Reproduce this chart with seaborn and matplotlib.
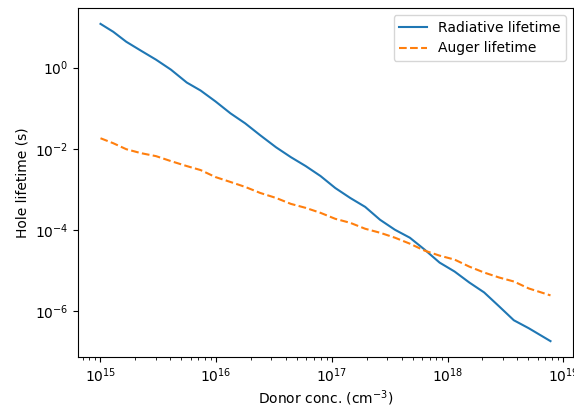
import numpy as np
import pandas as pd
import matplotlib
matplotlib.use("Agg")
import matplotlib.pyplot as plt
import matplotlib.ticker as mticker
import seaborn as sns

donor_conc = [1.0e15, 1.29e15, 1.67e15, 2.24e15, 3.02e15, 4.06e15, 5.57e15, 7.33e15,
              9.86e15, 1.33e16, 1.78e16, 2.40e16, 3.29e16, 4.42e16, 5.94e16, 7.98e16,
              1.07e17, 1.44e17, 1.94e17, 2.61e17, 3.51e17, 4.72e17, 6.34e17, 8.53e17,
              1.15e18, 1.54e18, 2.07e18, 2.79e18, 3.74e18, 5.03e18, 7.76e18]

radiative_lifetime = [11.98, 7.63, 4.34, 2.61, 1.57, 0.893, 0.429, 0.273,
                      0.147, 0.0746, 0.0424, 0.0216, 0.0109, 0.00622, 0.00375, 0.00213,
                      0.00108, 6.15e-4, 3.70e-4, 1.78e-4, 1.01e-4, 6.44e-5, 3.27e-5, 1.57e-5,
                      9.45e-6, 5.08e-6, 2.89e-6, 1.31e-6, 5.95e-7, 3.79e-7, 1.82e-7]

auger_lifetime = [0.0182, 0.0137, 0.00977, 0.00780, 0.00659, 0.00497, 0.00375, 0.00299,
                  0.00201, 0.00152, 0.00115, 8.17e-4, 6.15e-4, 4.39e-4, 3.50e-4, 2.64e-4,
                  1.88e-4, 1.50e-4, 1.07e-4, 8.53e-5, 6.44e-5, 4.59e-5, 3.09e-5, 2.33e-5,
                  1.86e-5, 1.25e-5, 8.93e-6, 6.73e-6, 5.37e-6, 3.62e-6, 2.44e-6]

y_ticks = [1e0, 1e-2, 1e-4, 1e-6]

df = pd.DataFrame({"donor": donor_conc, "rad": radiative_lifetime, "aug": auger_lifetime})

fig = plt.figure(figsize=(5.74, 4.08), dpi=100)
ax = fig.add_axes([78/574, 51/408, (573-78)/574, (357-8)/408])

sns.lineplot(data=df, x="donor", y="rad", ax=ax, color="C0", label="Radiative lifetime")
sns.lineplot(data=df, x="donor", y="aug", ax=ax, color="C1", linestyle="--", label="Auger lifetime")

ax.set_xscale("log")
ax.set_yscale("log")
ax.yaxis.set_major_locator(mticker.FixedLocator(y_ticks))
ax.yaxis.set_minor_locator(mticker.NullLocator())
ax.set_xlabel("Donor conc. (cm$^{-3}$)", labelpad=2)
ax.set_ylabel("Hole lifetime (s)")
ax.legend(loc="upper right")

fig.savefig("out.png", dpi=100)
